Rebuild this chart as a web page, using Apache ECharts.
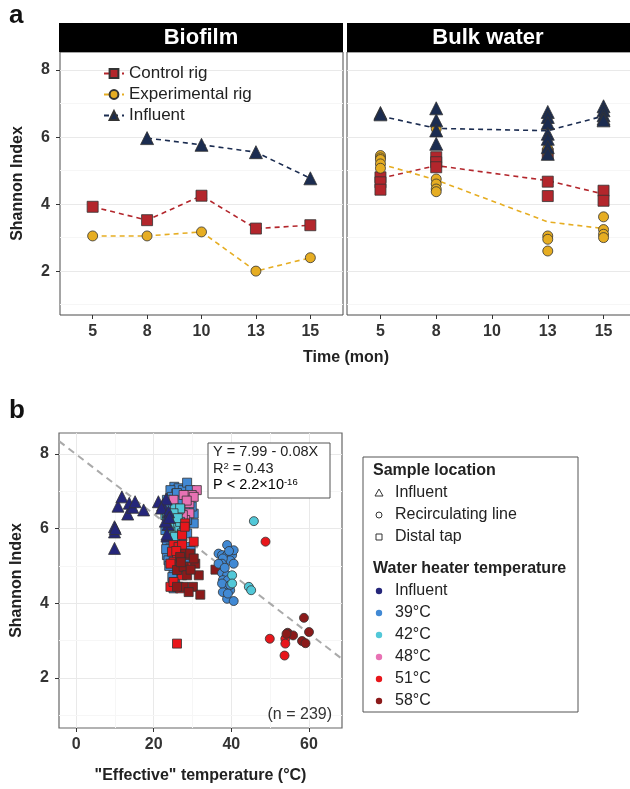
<!DOCTYPE html>
<html><head><meta charset="utf-8">
<script src="https://cdn.jsdelivr.net/npm/echarts@6/dist/echarts.min.js"></script>
<style>html,body{margin:0;padding:0;background:#fff}#c{width:630px;height:789px}</style>
</head><body><div id="c"></div><script>
// ---------- Panel a data ----------
const months = ['5','8','10','13','15'];
const monthPos = [1,2,3,4,5];
const yTicksA = [2,4,6,8];
const yMinorA = [1,3,5,7];
// Biofilm (one value per month)
const bfControl = [3.92,3.52,4.25,3.27,3.37];
const bfExperimental = [3.05,3.05,3.17,2.00,2.40];
const bfInfluent = [null,5.97,5.77,5.55,4.77];
// Bulk water samples: [month index (0-based), Shannon]
const bwControlPts = [[0,4.80],[0,4.65],[0,4.43],[1,5.40],[1,5.25],[1,5.10],[3,5.50],[3,4.67],[3,4.24],[4,4.40],[4,4.10]];
const bwExperimentalPts = [[0,5.45],[0,5.38],[0,5.33],[0,5.20],[0,5.07],[1,6.25],[1,4.75],[1,4.60],[1,4.45],[1,4.37],[3,5.65],[3,5.55],[3,3.05],[3,2.95],[3,2.60],[4,3.62],[4,3.24],[4,3.10],[4,3.00]];
const bwInfluentPts = [[0,6.72],[0,6.68],[1,6.86],[1,6.50],[1,6.20],[1,5.80],[3,6.75],[3,6.60],[3,6.42],[3,6.10],[3,5.95],[3,5.70],[3,5.50],[4,6.92],[4,6.80],[4,6.65],[4,6.55],[4,6.50]];
// Bulk water mean lines
const bwControlMean = [4.77,5.15,null,4.70,4.30];
const bwExperimentalMean = [5.20,4.72,null,3.47,3.27];
const bwInfluentMean = [6.63,6.26,null,6.19,6.63];

// ---------- Panel b data ----------
const xTicksB = [0,20,40,60];
const xMinorB = [10,30,50];
const yTicksB = [2,4,6,8];
const yMinorB = [1,3,5,7];
const regIntercept = 7.99, regSlope = -0.08;
// Influent (triangles)
const triInfluent = [[9.9,6.05],[9.9,5.91],[10.1,6.0],[9.9,5.47],[10.8,6.6],[11.8,6.85],[13.3,6.39],[13.7,6.68],[14.6,6.57],[15.2,6.72],[17.4,6.5],[21.2,6.72],[22.3,6.63],[23.2,6.79],[22.0,6.55],[23.8,6.45],[23.7,6.11],[23.4,5.8],[23.0,6.2],[24.0,6.3],[23.4,5.85]];
// Distal tap (squares)
const sq39 = [[25.3,7.12],[26.4,7.08],[24.3,7.03],[27.5,7.03],[28.6,7.23],[25.8,6.94],[24.7,6.85],[26.8,6.85],[28.1,6.9],[29.4,7.03],[23.4,6.77],[25.1,6.68],[30.3,6.4],[30.3,6.14],[29.8,6.59],[23.8,6.14],[23.0,5.96],[23.4,5.29],[23.8,5.15],[25.1,4.84],[25.5,4.62],[25.1,4.4],[26.4,4.44],[23.4,5.6],[24.3,5.47],[26.8,5.24],[27.7,5.42],[29.4,5.51],[29.0,5.06],[26.0,5.5],[27.3,5.7],[27.3,5.96],[24.7,5.78],[28.6,5.87],[25.5,6.32],[28.1,6.54],[26.8,6.4],[28.6,6.23],[24.0,6.6],[26.0,6.95],[27.0,6.75],[23.2,5.45],[24.0,5.0],[24.8,4.7],[29.5,5.4]];
const sq48 = [[31.1,7.03],[29.8,6.9],[27.7,6.9],[29.2,6.68],[25.1,6.77],[29.2,6.41],[28.1,6.23],[27.5,6.36],[30.3,6.85],[26.4,6.5],[28.5,6.75]];
const sq42 = [[23.0,6.36],[25.5,6.54],[26.8,6.54],[24.7,6.18],[25.5,6.05],[24.3,5.92],[25.5,5.78],[27.3,5.87],[26.8,6.18],[25.1,4.57],[23.4,6.32],[25.1,6.41],[24.0,6.05],[26.2,6.28]];
const sq51 = [[27.3,5.83],[30.3,5.65],[28.1,6.14],[25.1,5.56],[26.4,5.51],[27.3,5.56],[24.7,5.38],[26.0,5.29],[29.0,5.29],[25.1,5.11],[26.8,4.98],[28.1,4.89],[27.3,4.75],[29.0,4.98],[24.3,4.44],[26.8,4.4],[25.1,4.57],[26.0,2.92],[24.3,5.06],[28.0,6.05],[25.8,5.4]];
const sq58 = [[28.1,5.33],[29.4,5.33],[26.8,5.24],[30.7,5.06],[30.3,5.2],[26.0,4.89],[27.7,4.98],[28.6,4.75],[31.6,4.75],[27.7,4.44],[30.1,4.44],[29.0,4.3],[32.0,4.23],[26.0,4.44],[35.9,4.9],[27.0,5.1],[29.5,4.9]];
// Recirculating line (circles)
const c39 = [[38.9,5.56],[36.7,5.33],[37.6,5.29],[38.9,5.29],[40.2,5.29],[40.6,5.42],[39.7,5.15],[40.6,5.06],[37.8,5.2],[37.6,5.06],[37.6,4.81],[38.9,4.75],[37.8,4.62],[39.1,4.62],[38.5,4.44],[39.7,4.35],[37.8,4.3],[38.9,4.12],[40.6,4.06],[37.6,4.53],[39.7,4.49],[39.1,4.26],[36.7,5.06],[38.3,4.95],[39.4,5.4]];
const c42 = [[40.2,4.75],[40.2,4.53],[44.5,4.44],[45.1,4.35],[45.8,6.2]];
const c51 = [[48.8,5.65],[49.9,3.05],[53.9,3.05],[53.9,2.92],[53.7,2.6]];
const c58 = [[58.7,3.61],[54.5,3.21],[55.9,3.14],[58.2,2.99],[59.1,2.93],[60.0,3.23],[54.2,3.18]];

const locLabels = ['Influent','Recirculating line','Distal tap'];
const tempLabels = ['Influent','39°C','42°C','48°C','51°C','58°C'];

// ---------- styling ----------
const FONT = '"Liberation Sans", Arial, Helvetica, sans-serif';
const colCtrl = '#b3262c', colExp = '#e6ad22', colInf = '#1b2c50';
const tempColors = ['#25267a','#4189d4','#52c8d8','#e872b4','#e8161b','#8b1a1a'];
const GRID = '#e9e9e9', MINOR = '#f6f6f6', BORDER = '#4a4a4a';
const tickLbl = {fontFamily:FONT, fontSize:16, fontWeight:'bold', color:'#333'};

const chart = echarts.init(document.getElementById('c'), null, {renderer:'canvas'});

const pairs = arr => arr.map((v,i)=>[monthPos[i], v]);
const ptsPos = arr => arr.map(p=>[monthPos[p[0]], p[1]]);

function xAxA(g){
  return {gridIndex:g, type:'value', min:0.4, max:5.6,
    axisLine:{show:false, onZero:false},
    axisTick:{show:true, customValues:monthPos, length:4, lineStyle:{color:'#333'}},
    axisLabel:{customValues:monthPos, formatter:v=>months[Math.round(v)-1], margin:9, ...tickLbl},
    splitLine:{show:false}};
}
function yAxA(g, labels){
  return {gridIndex:g, type:'value', min:0.69, max:8.54,
    axisLine:{show:false, onZero:false},
    axisTick:{show:labels, customValues:yTicksA, length:4, lineStyle:{color:'#333'}},
    axisLabel:{show:labels, customValues:yTicksA, margin:10, ...tickLbl},
    splitLine:{show:true, lineStyle:{color:GRID, width:1}},
    name: labels ? 'Shannon Index' : '', nameLocation:'middle', nameGap:34, nameRotate:90,
    nameTextStyle:{fontFamily:FONT, fontSize:16, fontWeight:'bold', color:'#222'}};
}
function minorSeries(xi, yi, xs, ys){
  const d = [];
  (ys||[]).forEach(v=>d.push({yAxis:v}));
  (xs||[]).forEach(v=>d.push({xAxis:v}));
  return {type:'scatter', xAxisIndex:xi, yAxisIndex:yi, data:[], z:0, silent:true,
    markLine:{silent:true, z:0, zlevel:0, symbol:'none', label:{show:false}, animation:false,
      lineStyle:{color:MINOR, type:'solid', width:1}, emphasis:{disabled:true}, data:d}};
}
const mk = {borderColor:'#333', borderWidth:0.8, opacity:1};
function lineS(name, xi, data, color, sym, size){
  return {name, type:'line', xAxisIndex:xi, yAxisIndex:xi, data, connectNulls:true,
    symbol:sym, symbolSize:size, showSymbol:true,
    lineStyle:{color, width:1.6, type:[5,4]},
    itemStyle:{color, ...mk}, z:3};
}
function meanS(name, xi, data, color){
  return {name, type:'line', xAxisIndex:xi, yAxisIndex:xi, data, connectNulls:true,
    symbol:'none', lineStyle:{color, width:1.6, type:[5,4]}, z:2};
}
function ptS(name, xi, data, color, sym, size, z){
  return {name, type:'scatter', xAxisIndex:xi, yAxisIndex:xi, data, symbol:sym, symbolSize:size,
    itemStyle:{color, ...mk}, emphasis:{disabled:true}, z:z||3};
}
const triSym = 'triangle';

const series = [
  lineS('Control rig', 0, pairs(bfControl), colCtrl, 'rect', 11),
  lineS('Experimental rig', 0, pairs(bfExperimental), colExp, 'circle', 10),
  lineS('Influent', 0, pairs(bfInfluent), colInf, triSym, 13),
  minorSeries(0,0,null,yMinorA),
  minorSeries(1,1,null,yMinorA),
  meanS('Control rig', 1, pairs(bwControlMean), colCtrl),
  meanS('Experimental rig', 1, pairs(bwExperimentalMean), colExp),
  meanS('Influent', 1, pairs(bwInfluentMean), colInf),
  ptS('Control rig', 1, ptsPos(bwControlPts), colCtrl, 'rect', 11, 3),
  ptS('Experimental rig', 1, ptsPos(bwExperimentalPts), colExp, 'circle', 10, 4),
  ptS('Influent', 1, ptsPos(bwInfluentPts), colInf, triSym, 13, 5),
  // panel b
  minorSeries(2,2,xMinorB,yMinorB),
  {type:'line', xAxisIndex:2, yAxisIndex:2, silent:true, symbol:'none', z:1,
    data:[-4.4, 68.5].map(x=>[x, regIntercept + regSlope*x]),
    lineStyle:{color:'#aaaaaa', width:2, type:[7,5]}},
  ptS('sq39', 2, sq39, tempColors[1], 'rect', 9, 3),
  ptS('sq48', 2, sq48, tempColors[3], 'rect', 9, 3),
  ptS('sq42', 2, sq42, tempColors[2], 'rect', 9, 3),
  ptS('tri', 2, triInfluent, tempColors[0], triSym, 12, 3),
  ptS('sq51', 2, sq51, tempColors[4], 'rect', 9, 3),
  ptS('sq58', 2, sq58, tempColors[5], 'rect', 9, 3),
  ptS('c39', 2, c39, tempColors[1], 'circle', 9, 3),
  ptS('c42', 2, c42, tempColors[2], 'circle', 9, 3),
  ptS('c51', 2, c51, tempColors[4], 'circle', 9, 3),
  ptS('c58', 2, c58, tempColors[5], 'circle', 9, 3)
];

// legend b graphics
const lgX = 363, lgY = 457;
const lgChildren = [
  {type:'rect', shape:{x:lgX, y:lgY, width:215, height:255}, style:{fill:'#fff', stroke:'#555', lineWidth:1}},
  {type:'text', style:{x:lgX+10, y:471, text:'Sample location', font:'bold 16px '+FONT, fill:'#222', textVerticalAlign:'middle'}},
  {type:'text', style:{x:lgX+10, y:569, text:'Water heater temperature', font:'bold 16px '+FONT, fill:'#222', textVerticalAlign:'middle'}}
];
locLabels.forEach((t,i)=>{
  const cy = 493 + i*22;
  lgChildren.push({type:'text', style:{x:395, y:cy, text:t, font:'16px '+FONT, fill:'#222', textVerticalAlign:'middle'}});
});
lgChildren.push({type:'polygon', shape:{points:[[379,489],[383,496],[375,496]]}, style:{fill:'none', stroke:'#333', lineWidth:1}});
lgChildren.push({type:'circle', shape:{cx:379, cy:515, r:3}, style:{fill:'none', stroke:'#333', lineWidth:1}});
lgChildren.push({type:'rect', shape:{x:376, y:534, width:6, height:6}, style:{fill:'none', stroke:'#333', lineWidth:1}});
tempLabels.forEach((t,i)=>{
  const cy = 591 + i*22;
  lgChildren.push({type:'circle', shape:{cx:379, cy, r:3.2}, style:{fill:tempColors[i]}});
  lgChildren.push({type:'text', style:{x:395, y:cy, text:t, font:'16px '+FONT, fill:'#222', textVerticalAlign:'middle'}});
});

const annoFont = '14.5px ' + FONT;
const graphic = [
  {type:'text', style:{x:9, y:16, text:'a', font:'bold 26px '+FONT, fill:'#111', textVerticalAlign:'middle'}},
  {type:'text', style:{x:9, y:411, text:'b', font:'bold 26px '+FONT, fill:'#111', textVerticalAlign:'middle'}},
  {type:'rect', shape:{x:59, y:23, width:284, height:29}, style:{fill:'#000'}},
  {type:'rect', shape:{x:347, y:23, width:290, height:29}, style:{fill:'#000'}},
  {type:'text', style:{x:201, y:38, text:'Biofilm', font:'bold 22px '+FONT, fill:'#fff', textAlign:'center', textVerticalAlign:'middle'}},
  {type:'text', style:{x:488, y:38, text:'Bulk water', font:'bold 22px '+FONT, fill:'#fff', textAlign:'center', textVerticalAlign:'middle'}},
  {type:'text', style:{x:346, y:358, text:'Time (mon)', font:'bold 16px '+FONT, fill:'#222', textAlign:'center', textVerticalAlign:'middle'}},
  {type:'rect', shape:{x:208, y:443, width:122, height:55}, style:{fill:'#fff', stroke:'#555', lineWidth:1}, z:10},
  {type:'text', z:11, style:{x:213, y:452, text:'Y = 7.99 - 0.08X', font:annoFont, fill:'#222', textVerticalAlign:'middle'}},
  {type:'text', z:11, style:{x:213, y:469, text:'{a|R}{s|2}{a| = 0.43}', textVerticalAlign:'middle',
    rich:{a:{fontFamily:FONT, fontSize:14.5, fill:'#222', color:'#222'}, s:{fontFamily:FONT, fontSize:9.5, color:'#222', fill:'#222', verticalAlign:'top', padding:[0,0,6,0]}}}},
  {type:'text', z:11, style:{x:213, y:485, text:'{a|P < 2.2×10}{s|-16}', textVerticalAlign:'middle',
    rich:{a:{fontFamily:FONT, fontSize:14.5, color:'#222'}, s:{fontFamily:FONT, fontSize:9.5, color:'#222', verticalAlign:'top', padding:[0,0,6,0]}}}},
  {type:'text', z:11, style:{x:332, y:715, text:'(n = 239)', font:'16px '+FONT, fill:'#333', textAlign:'right', textVerticalAlign:'middle'}},
  {type:'group', children:lgChildren}
];

chart.setOption({
  animation:false,
  backgroundColor:'#fff',
  textStyle:{fontFamily:FONT},
  grid:[
    {left:60, top:52, width:283, height:263, show:true, borderColor:BORDER, borderWidth:1, backgroundColor:'#fff', outerBoundsMode:'none', containLabel:false},
    {left:347, top:52, width:290, height:263, show:true, borderColor:BORDER, borderWidth:1, backgroundColor:'#fff', outerBoundsMode:'none', containLabel:false},
    {left:59, top:433, width:283, height:295, show:true, borderColor:'#666', borderWidth:1.2, backgroundColor:'#fff', outerBoundsMode:'none', containLabel:false}
  ],
  xAxis:[
    xAxA(0),
    xAxA(1),
    {gridIndex:2, type:'value', min:-4.4, max:68.5, axisLine:{show:false, onZero:false},
      axisTick:{customValues:xTicksB, length:4, lineStyle:{color:'#333'}},
      axisLabel:{customValues:xTicksB, margin:9, ...tickLbl},
      splitLine:{show:true, lineStyle:{color:GRID}},
      name:'"Effective" temperature (°C)', nameLocation:'middle', nameGap:40,
      nameTextStyle:{fontFamily:FONT, fontSize:16, fontWeight:'bold', color:'#222'}}
  ],
  yAxis:[
    yAxA(0, true),
    yAxA(1, false),
    {gridIndex:2, type:'value', min:0.66, max:8.56, axisLine:{show:false, onZero:false},
      axisTick:{customValues:yTicksB, length:4, lineStyle:{color:'#333'}},
      axisLabel:{customValues:yTicksB, margin:10, ...tickLbl},
      splitLine:{show:true, lineStyle:{color:GRID}},
      name:'Shannon Index', nameLocation:'middle', nameGap:34, nameRotate:90,
      nameTextStyle:{fontFamily:FONT, fontSize:16, fontWeight:'bold', color:'#222'}}
  ],
  legend:{show:true, orient:'vertical', left:98, top:60, itemWidth:20, itemHeight:11, itemGap:4,
    data:['Control rig','Experimental rig','Influent'],
    textStyle:{fontFamily:FONT, fontSize:17, color:'#222', lineHeight:17}, backgroundColor:'transparent'},
  series,
  graphic
});
</script></body></html>
